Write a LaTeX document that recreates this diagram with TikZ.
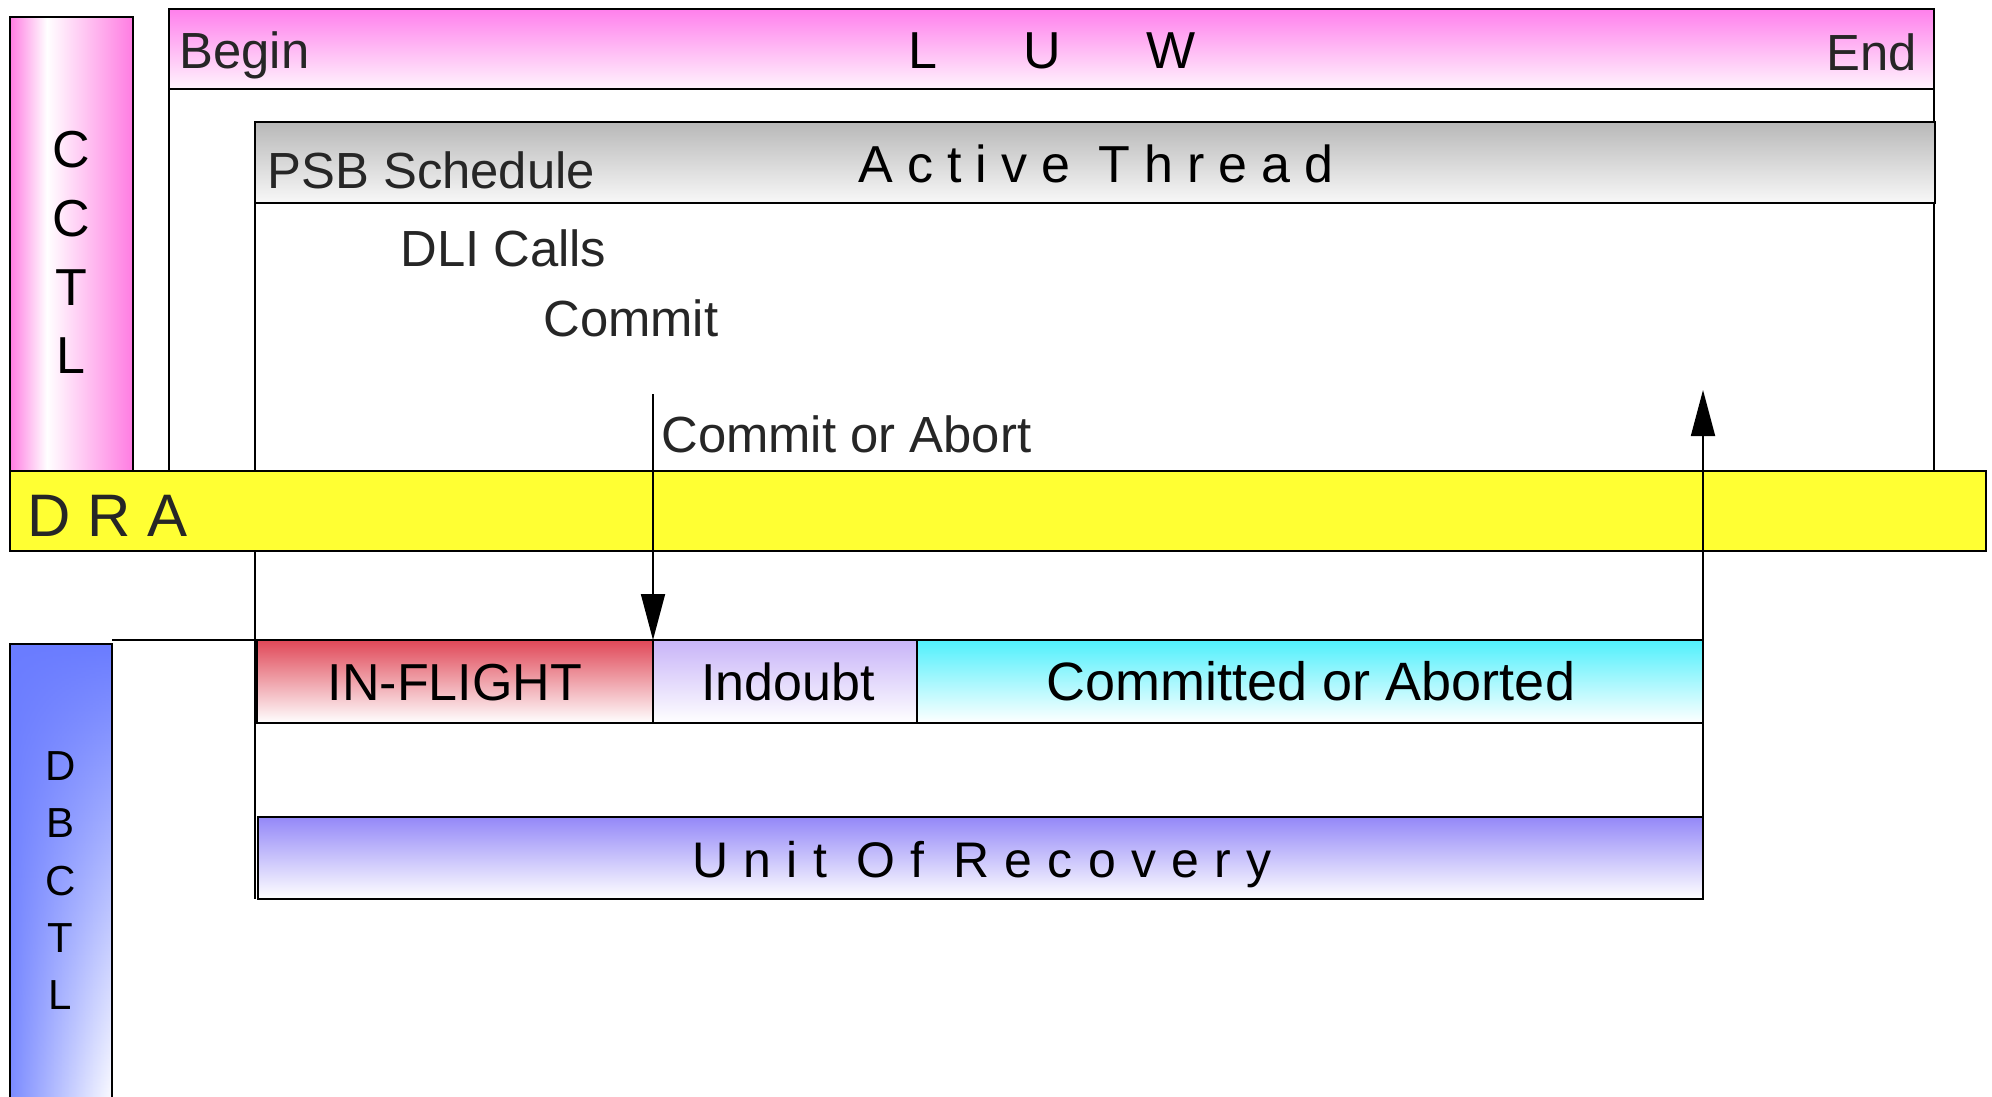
\documentclass[tikz,border=0pt]{standalone}
\usepackage{fontspec}
\setmainfont{Liberation Sans}
\usetikzlibrary{arrows.meta,fadings}

\definecolor{luwPink}{HTML}{FF80EC}
\definecolor{luwPale}{HTML}{FFF4FD}
\definecolor{cctlPink}{HTML}{FF7CE2}
\definecolor{threadGray}{HTML}{B8B8B8}
\definecolor{threadPale}{HTML}{F8F8F8}
\definecolor{draYellow}{HTML}{FFFF33}
\definecolor{flightRed}{HTML}{E04858}
\definecolor{doubtLilac}{HTML}{C8B4F8}
\definecolor{doneCyan}{HTML}{50F0FC}
\definecolor{urViolet}{HTML}{9488F8}
\definecolor{dbBlue}{HTML}{6A7CFF}
\definecolor{dbBlueLeft}{HTML}{7C8CFF}
\definecolor{inkGray}{HTML}{262626}

% pink edges, white band left of centre
\pgfdeclarehorizontalshading{cctlshade}{100bp}{%
  color(0bp)=(cctlPink); color(25bp)=(cctlPink); color(40bp)=(white);
  color(75bp)=(cctlPink); color(100bp)=(cctlPink)}

\tikzset{
  bar/.style={rectangle, inner sep=0pt, outer sep=0pt, anchor=north west,
              draw=black, line width=1.1pt},
  rule/.style={draw=black, line width=0.9pt},
  arr/.style={rule, -{Triangle[length=23pt,width=12pt]}},
  lbl/.style={inner sep=0pt, text=inkGray, font=\fontsize{25.4}{30}\selectfont},
  boxlbl/.style={inner sep=0pt, text=black, font=\fontsize{26}{30}\selectfont},
  spaced/.style 2 args={inner sep=0pt, text=black,
                 font=\fontsize{#1}{30}\selectfont\addfontfeature{LetterSpace=#2}},
  sideletter/.style={inner sep=0pt, text=black, anchor=base,
                     font=\fontsize{#1}{30}\selectfont},
}

\begin{document}
\begin{tikzpicture}[x=0.5pt,y=-0.5pt]
\useasboundingbox (0,0) rectangle (1992,1097);

% ---- CCTL layer: logical unit of work and active thread
\node[bar, minimum width=61.5pt, minimum height=227pt, shading=cctlshade] (cctl) at (10,17) {};
\node[bar, minimum width=882.5pt, minimum height=40pt, top color=luwPink, bottom color=luwPale] (luw) at (169,9) {};
\draw[rule] (luw.south west) -- (luw.south west |- 0,472);
\draw[rule] (luw.south east) -- (luw.south east |- 0,472);
\node[bar, minimum width=840pt, minimum height=40.5pt, top color=threadGray, bottom color=threadPale] (thread) at (255,122) {};
\draw[rule] (thread.south west) -- (thread.south west |- 0,899);

% ---- DBCTL layer: unit of recovery states
\node[bar, minimum width=198pt, minimum height=41.5pt, top color=flightRed, bottom color=white] (flight) at (257,640) {};
\node[bar, minimum width=132pt, minimum height=41.5pt, top color=doubtLilac, bottom color=white] (doubt) at (653,640) {};
\node[bar, minimum width=393pt, minimum height=41.5pt, top color=doneCyan, bottom color=white] (done) at (917,640) {};
\node[bar, minimum width=722.5pt, minimum height=41pt, top color=urViolet, bottom color=white] (ur) at (258,817) {};

\node[bar, draw=none, minimum width=51pt, minimum height=233pt, left color=dbBlueLeft, right color=white] (dbctl) at (10,644) {};
\fill[dbBlue, path fading=south] (dbctl.north west) rectangle (dbctl.south east);
\draw[line width=1.1pt] (dbctl.south west) -- (dbctl.north west) -- (dbctl.north east) -- (dbctl.south east);
\draw[rule] (dbctl.north east |- flight.north) -- (flight.north west);

% ---- DRA band between the two layers
\node[bar, minimum width=988pt, minimum height=40pt, fill=draYellow] (dra) at (10,471) {};

% ---- commit request and reply
\coordinate (cmt) at (653,394);
\coordinate (ret) at (1703,390);
\draw[arr] (cmt) -- (flight.north east);
\draw[arr] (ur.south east) -- (ret);

% ---- labels
\node[lbl, anchor=base west] (tbegin) at (179,69) {Begin};
\node[boxlbl, anchor=base west] (tluw) at (908,69) {L\hspace{43pt}U\hspace{43pt}W};
\node[lbl, anchor=base east] (tend) at (1917,71) {End};
\node[lbl, anchor=base west] (tpsb) at (267,189) {PSB Schedule};
\node[spaced={26}{27}, anchor=base west] (tthread) at (858,183) {Active Thread};
\node[lbl, anchor=base west] (tdli) at (400,266) {DLI Calls};
\node[lbl, anchor=base west] (tcommit) at (543,336) {Commit};
\node[lbl, anchor=base west] (tcoa) at (661,452) {Commit or Abort};
\node[lbl, anchor=base west, font=\fontsize{30}{34}\selectfont] (tdra) at (27,536) {D R A};

\node[boxlbl, anchor=base] (tflight) at (455,700) {IN-FLIGHT};
\node[boxlbl, anchor=base] (tdoubt) at (788,700) {Indoubt};
\node[boxlbl, anchor=base, font=\fontsize{27}{30}\selectfont] (tdone) at (1311,700) {Committed or Aborted};
\node[spaced={25}{30.5}, anchor=base west] (tur) at (692,877) {Unit Of Recovery};

\node[sideletter=26] (c1) at (71,168) {C};
\node[sideletter=26] (c2) at (71,236) {C};
\node[sideletter=26] (c3) at (71,305) {T};
\node[sideletter=26] (c4) at (71,373) {L};

\node[sideletter=21] (d1) at (60.5,780) {D};
\node[sideletter=21] (d2) at (60.5,837) {B};
\node[sideletter=21] (d3) at (60.5,895) {C};
\node[sideletter=21] (d4) at (60.5,952) {T};
\node[sideletter=21] (d5) at (60.5,1009) {L};
\end{tikzpicture}
\end{document}
